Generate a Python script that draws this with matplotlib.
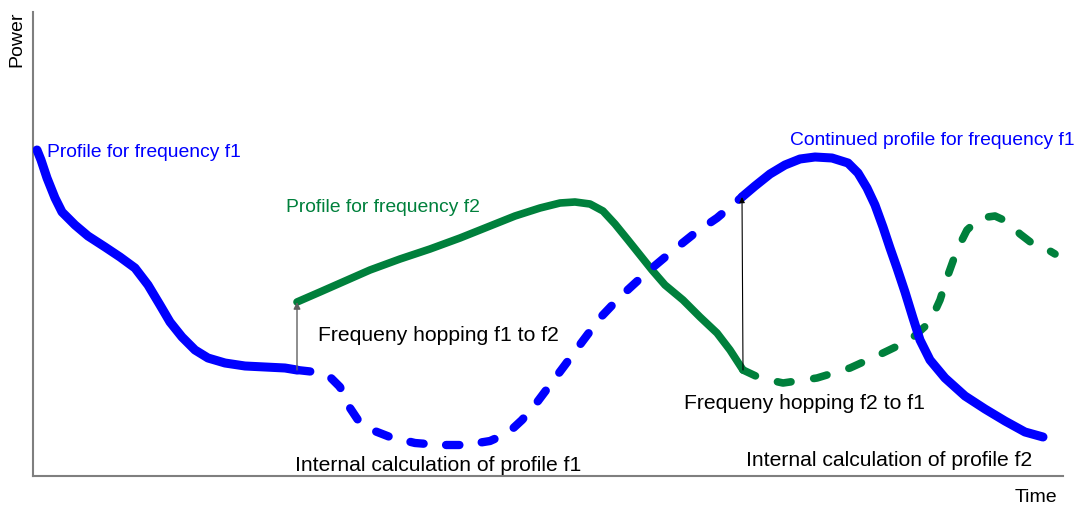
import matplotlib
matplotlib.use("Agg")
import matplotlib.pyplot as plt

plt.rcParams['font.family'] = ['Liberation Sans', 'DejaVu Sans']

BLUE = '#0000ff'
GREEN = '#00803c'

# profile f1 before the hop (solid)
f1_x = [37, 41, 47, 55, 62, 75, 88, 105, 120, 135, 148, 160, 170, 182, 195, 208, 225, 245, 265, 285, 297]
f1_y = [150, 160, 178, 198, 212, 225, 236, 247, 257, 268, 285, 305, 322, 337, 350, 358, 363, 366, 367, 368, 370]

# internal calculation of f1 while on f2 (dashed)
f1_calc_x = [297, 315, 330, 340, 348, 358, 372, 390, 415, 440, 465, 490, 508, 522, 535, 550, 565, 582, 600, 620, 645, 670, 695, 717, 742]
f1_calc_y = [370, 372, 377, 387, 405, 420, 430, 437, 443, 445, 445, 441, 433, 420, 405, 385, 365, 342, 318, 297, 274, 253, 233, 218, 197]

# continued profile f1 after hopping back (solid)
f1_cont_x = [742, 755, 770, 785, 800, 815, 832, 848, 858, 867, 875, 883, 890, 897, 905, 913, 920, 930, 945, 965, 985, 1005, 1025, 1043]
f1_cont_y = [197, 186, 174, 165, 159, 157, 158, 163, 173, 188, 205, 227, 248, 268, 292, 318, 340, 360, 378, 396, 409, 421, 432, 437]

# profile f2 while active (solid)
f2_x = [297, 320, 345, 370, 400, 430, 460, 490, 515, 540, 560, 575, 590, 603, 615, 628, 640, 652, 665, 683, 700, 717, 730, 743]
f2_y = [302, 292, 281, 270, 259, 249, 238, 226, 216, 208, 203, 202, 204, 211, 224, 240, 255, 270, 285, 300, 317, 333, 350, 370]

# internal calculation of f2 after the hop back (dashed)
f2_calc_x = [743, 760, 783, 817, 850, 883, 910, 930, 940, 948, 957, 967, 980, 995, 1008, 1020, 1033, 1045, 1055]
f2_calc_y = [370, 378, 383, 378, 368, 353, 340, 322, 300, 275, 250, 230, 218, 216, 222, 234, 244, 248, 254]

fig = plt.figure(figsize=(10.77, 5.07), dpi=100)
ax = fig.add_axes([33 / 1077, 31 / 507, 1030 / 1077, 464 / 507])
ax.set_xlim(33, 1063)
ax.set_ylim(476, 12)
ax.set_xticks([])
ax.set_yticks([])
for s in ['top', 'right']:
    ax.spines[s].set_visible(False)
for s in ['left', 'bottom']:
    ax.spines[s].set_color('#7f7f7f')
    ax.spines[s].set_linewidth(1.5)

ax.plot(f1_x, f1_y, color=BLUE, lw=6.5, solid_capstyle='round', solid_joinstyle='round', zorder=3)
ax.plot(f1_calc_x, f1_calc_y, color=BLUE, lw=6, dashes=(1.6, 2.7), dash_capstyle='round', zorder=3)
ax.plot(f1_cont_x, f1_cont_y, color=BLUE, lw=6.5, solid_capstyle='round', solid_joinstyle='round', zorder=3)
ax.plot(f2_x, f2_y, color=GREEN, lw=5.5, solid_capstyle='round', solid_joinstyle='round', zorder=2)
ax.plot(f2_calc_x, f2_calc_y, color=GREEN, lw=5.5, dashes=(1.8, 3.0), dash_capstyle='round', zorder=2)

# hop arrows
ax.annotate('', xy=(f2_x[0], f2_y[0]), xytext=(f1_x[-1], f1_y[-1]),
            arrowprops=dict(arrowstyle='-|>', color='#606060', lw=1, mutation_scale=10,
                            shrinkA=0, shrinkB=0), zorder=4)
ax.annotate('', xy=(f1_cont_x[0], f1_cont_y[0]), xytext=(f2_x[-1], f2_y[-1]),
            arrowprops=dict(arrowstyle='-|>', color='black', lw=0.8, mutation_scale=8,
                            shrinkA=0, shrinkB=0), zorder=4)

fs_small = 13.9
fs = 15.2
ax.text(47, 152, 'Profile for frequency f1', color=BLUE, fontsize=fs_small, va='center')
ax.text(286, 207, 'Profile for frequency f2', color=GREEN, fontsize=fs_small, va='center')
ax.text(790, 140, 'Continued profile for frequency f1', color=BLUE, fontsize=fs_small, va='center',
        clip_on=False)
ax.text(318, 335, 'Frequeny hopping f1 to f2', color='black', fontsize=fs, va='center')
ax.text(684, 403, 'Frequeny hopping f2 to f1', color='black', fontsize=fs, va='center')
ax.text(295, 465, 'Internal calculation of profile f1', color='black', fontsize=fs, va='center')
ax.text(746, 460, 'Internal calculation of profile f2', color='black', fontsize=fs, va='center')
ax.text(1057, 497, 'Time', color='black', fontsize=14, ha='right', va='center', clip_on=False)
ax.text(17, 39, 'Power', color='black', fontsize=14, rotation=90, ha='center', va='center', clip_on=False)

fig.savefig('out.png', dpi=100)
